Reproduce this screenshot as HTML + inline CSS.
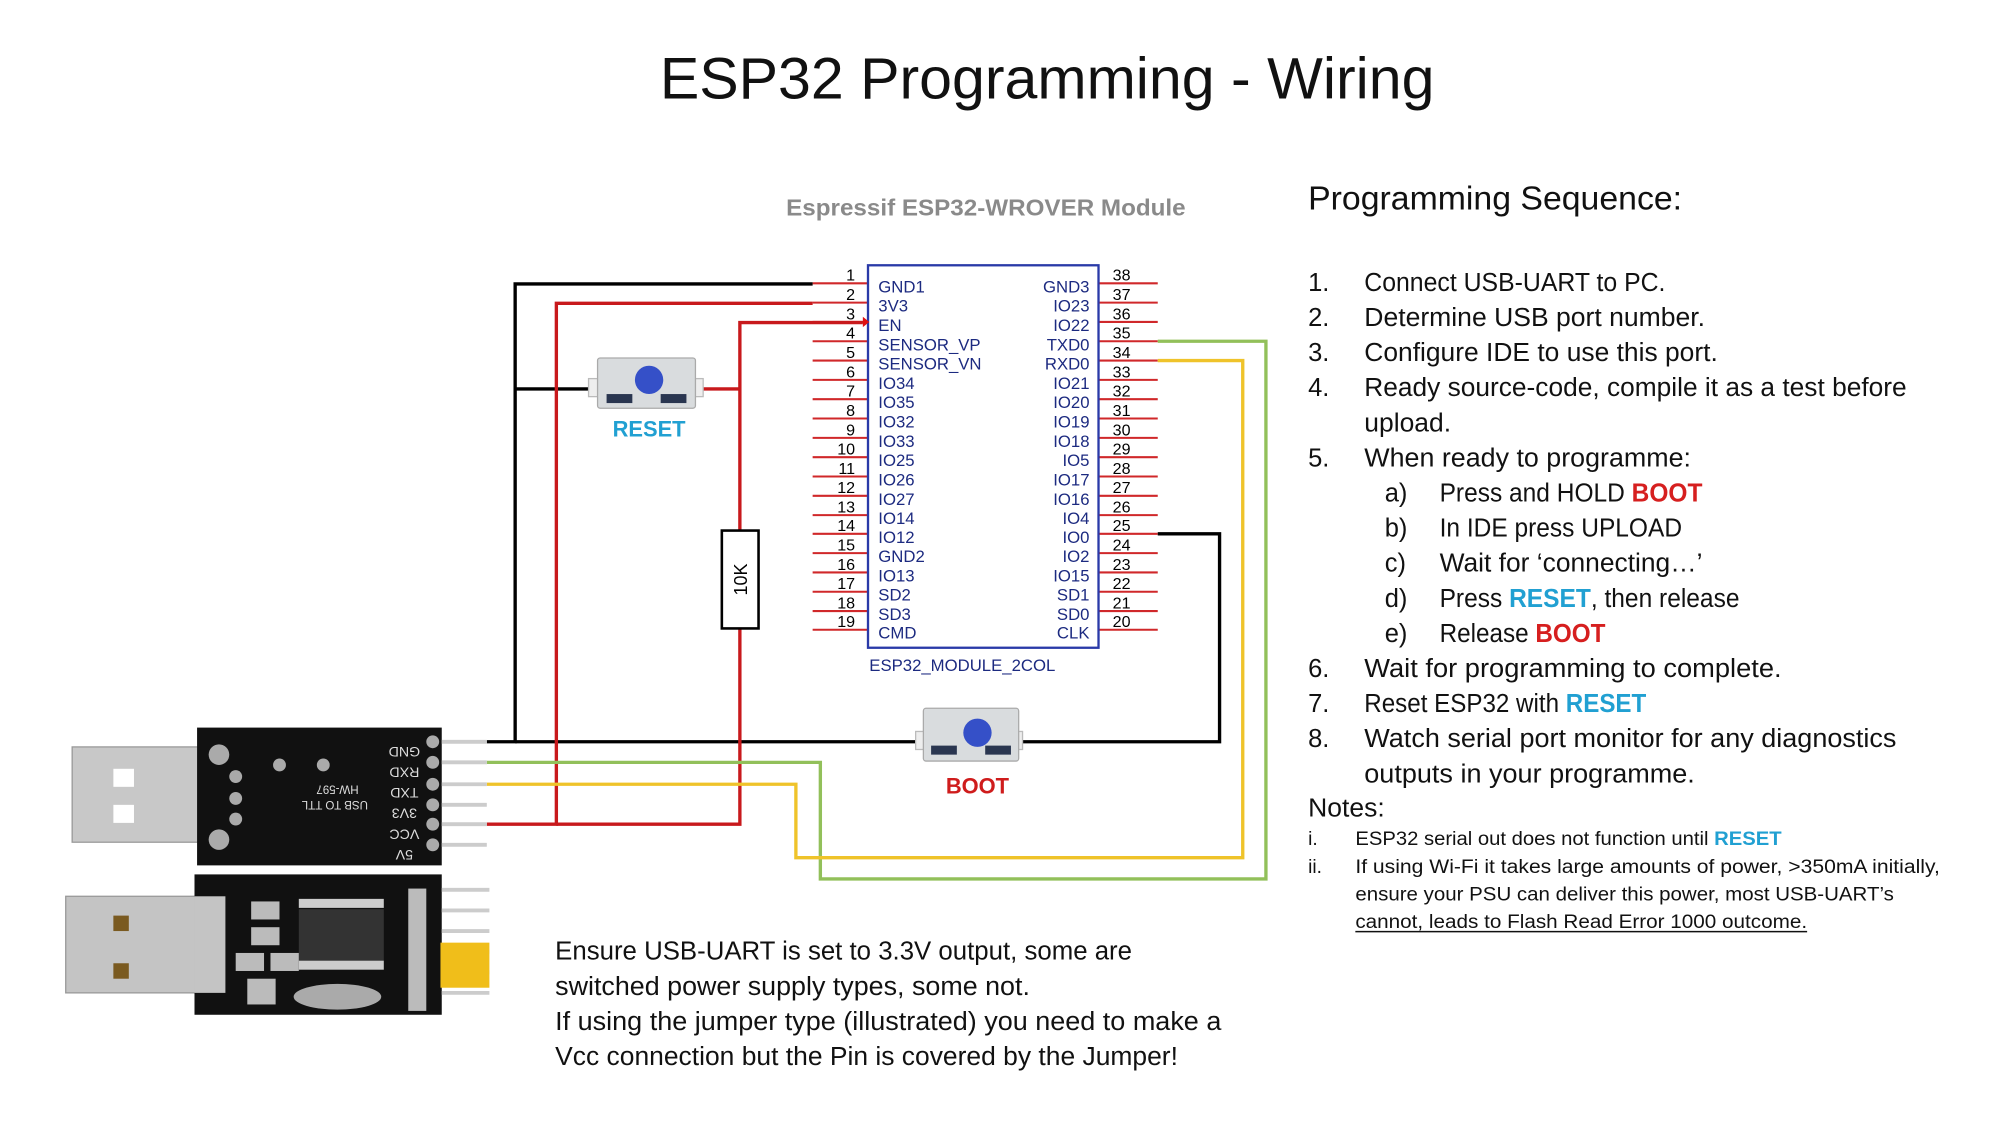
<!DOCTYPE html>
<html><head><meta charset="utf-8"><style>
html,body{margin:0;padding:0;background:#fff;}
svg{display:block;}
text{font-family:"Liberation Sans",sans-serif;}
.t{font-size:20px;fill:#111;}
.n{font-size:15px;fill:#111;}
.pl{font-size:13px;fill:#1c2a80;}
.pn{font-size:12.5px;fill:#000;}
</style></head><body>
<svg width="2000" height="1125" viewBox="0 0 1553 873.6" xmlns="http://www.w3.org/2000/svg">
<rect width="1553" height="874" fill="#fff"/>
<g transform="scale(0.991)">
<text x="517" y="77" font-size="46" fill="#111" textLength="607" lengthAdjust="spacingAndGlyphs">ESP32 Programming - Wiring</text>
<text x="616" y="169" font-size="18" font-weight="bold" fill="#8a8a8a" textLength="313" lengthAdjust="spacingAndGlyphs">Espressif ESP32-WROVER Module</text>
</g>

<!-- pin lines -->
<g stroke="#d0282a" stroke-width="1.6">
<line x1="631" x2="674" y1="220" y2="220"/><line x1="631" x2="674" y1="235" y2="235"/><line x1="631" x2="674" y1="250" y2="250"/><line x1="631" x2="674" y1="265" y2="265"/><line x1="631" x2="674" y1="280" y2="280"/><line x1="631" x2="674" y1="295" y2="295"/><line x1="631" x2="674" y1="310" y2="310"/><line x1="631" x2="674" y1="325" y2="325"/><line x1="631" x2="674" y1="340" y2="340"/><line x1="631" x2="674" y1="355" y2="355"/><line x1="631" x2="674" y1="370" y2="370"/><line x1="631" x2="674" y1="385" y2="385"/><line x1="631" x2="674" y1="400" y2="400"/><line x1="631" x2="674" y1="414.5" y2="414.5"/><line x1="631" x2="674" y1="429.5" y2="429.5"/><line x1="631" x2="674" y1="444.5" y2="444.5"/><line x1="631" x2="674" y1="459.5" y2="459.5"/><line x1="631" x2="674" y1="474.5" y2="474.5"/><line x1="631" x2="674" y1="489" y2="489"/>
<line x1="853" x2="899" y1="220" y2="220"/><line x1="853" x2="899" y1="235" y2="235"/><line x1="853" x2="899" y1="250" y2="250"/><line x1="853" x2="899" y1="265" y2="265"/><line x1="853" x2="899" y1="280" y2="280"/><line x1="853" x2="899" y1="295" y2="295"/><line x1="853" x2="899" y1="310" y2="310"/><line x1="853" x2="899" y1="325" y2="325"/><line x1="853" x2="899" y1="340" y2="340"/><line x1="853" x2="899" y1="355" y2="355"/><line x1="853" x2="899" y1="370" y2="370"/><line x1="853" x2="899" y1="385" y2="385"/><line x1="853" x2="899" y1="400" y2="400"/><line x1="853" x2="899" y1="414.5" y2="414.5"/><line x1="853" x2="899" y1="429.5" y2="429.5"/><line x1="853" x2="899" y1="444.5" y2="444.5"/><line x1="853" x2="899" y1="459.5" y2="459.5"/><line x1="853" x2="899" y1="474.5" y2="474.5"/><line x1="853" x2="899" y1="489" y2="489"/>
</g>
<rect x="674" y="206" width="179" height="297" fill="none" stroke="#2a3aa8" stroke-width="1.8"/>
<polygon points="670,246 675,250 670,254" fill="#e01010"/>
<g class="pn" text-anchor="end">
<text x="664" y="218">1</text><text x="664" y="233">2</text><text x="664" y="248">3</text><text x="664" y="263">4</text><text x="664" y="278">5</text><text x="664" y="293">6</text><text x="664" y="308">7</text><text x="664" y="323">8</text><text x="664" y="338">9</text><text x="664" y="353">10</text><text x="664" y="368">11</text><text x="664" y="383">12</text><text x="664" y="398">13</text><text x="664" y="412.5">14</text><text x="664" y="427.5">15</text><text x="664" y="442.5">16</text><text x="664" y="457.5">17</text><text x="664" y="472.5">18</text><text x="664" y="487">19</text>
</g>
<g class="pn">
<text x="864" y="218">38</text><text x="864" y="233">37</text><text x="864" y="248">36</text><text x="864" y="263">35</text><text x="864" y="278">34</text><text x="864" y="293">33</text><text x="864" y="308">32</text><text x="864" y="323">31</text><text x="864" y="338">30</text><text x="864" y="353">29</text><text x="864" y="368">28</text><text x="864" y="383">27</text><text x="864" y="398">26</text><text x="864" y="412.5">25</text><text x="864" y="427.5">24</text><text x="864" y="442.5">23</text><text x="864" y="457.5">22</text><text x="864" y="472.5">21</text><text x="864" y="487">20</text>
</g>
<g class="pl">
<text x="682" y="227">GND1</text><text x="682" y="242">3V3</text><text x="682" y="257">EN</text><text x="682" y="272">SENSOR_VP</text><text x="682" y="287">SENSOR_VN</text><text x="682" y="302">IO34</text><text x="682" y="317">IO35</text><text x="682" y="332">IO32</text><text x="682" y="347">IO33</text><text x="682" y="362">IO25</text><text x="682" y="377">IO26</text><text x="682" y="392">IO27</text><text x="682" y="407">IO14</text><text x="682" y="421.5">IO12</text><text x="682" y="436.5">GND2</text><text x="682" y="451.5">IO13</text><text x="682" y="466.5">SD2</text><text x="682" y="481.5">SD3</text><text x="682" y="496">CMD</text>
</g>
<g class="pl" text-anchor="end">
<text x="846" y="227">GND3</text><text x="846" y="242">IO23</text><text x="846" y="257">IO22</text><text x="846" y="272">TXD0</text><text x="846" y="287">RXD0</text><text x="846" y="302">IO21</text><text x="846" y="317">IO20</text><text x="846" y="332">IO19</text><text x="846" y="347">IO18</text><text x="846" y="362">IO5</text><text x="846" y="377">IO17</text><text x="846" y="392">IO16</text><text x="846" y="407">IO4</text><text x="846" y="421.5">IO0</text><text x="846" y="436.5">IO2</text><text x="846" y="451.5">IO15</text><text x="846" y="466.5">SD1</text><text x="846" y="481.5">SD0</text><text x="846" y="496">CLK</text>
</g>
<text x="675" y="521" class="pl">ESP32_MODULE_2COL</text>

<!-- wires -->
<g fill="none" stroke-width="2.6">
<polyline stroke="#000" points="631,220.5 400,220.5 400,576 378,576"/>
<line stroke="#000" x1="400" y1="302" x2="463" y2="302"/>
<line stroke="#000" x1="400" y1="576" x2="716" y2="576"/>
<polyline stroke="#000" points="790,576 947,576 947,414.5 899,414.5"/>
<polyline stroke="#c8191c" points="631,235.5 432,235.5 432,640 378,640"/>
<polyline stroke="#c8191c" points="670,250.5 574.5,250.5 574.5,412"/>
<line stroke="#c8191c" x1="541" y1="302" x2="574.5" y2="302"/>
<polyline stroke="#c8191c" points="574.5,488 574.5,640 432,640"/>
<polyline stroke="#92c05a" points="378,592 637,592 637,682.5 983,682.5 983,265 899,265"/>
<polyline stroke="#efc32a" points="378,609 618,609 618,666 965,666 965,280 899,280"/>
</g>
<rect x="560.5" y="412" width="28.5" height="76" fill="#fff" stroke="#000" stroke-width="2"/>
<text transform="translate(580,450) rotate(-90)" text-anchor="middle" font-size="14" fill="#000">10K</text>

<!-- RESET button -->
<g>
<rect x="457" y="294" width="8" height="14" fill="#eee" stroke="#bbb"/>
<rect x="538" y="294" width="8" height="14" fill="#eee" stroke="#bbb"/>
<rect x="464" y="278" width="76" height="39" rx="2" fill="#d9dcde" stroke="#aaa"/>
<rect x="471" y="306" width="20" height="7" fill="#2a3650"/>
<rect x="513" y="306" width="20" height="7" fill="#2a3650"/>
<circle cx="504" cy="295" r="11" fill="#3550c8"/>
</g>
<text x="504" y="339" text-anchor="middle" font-size="17" font-weight="bold" fill="#21a0d2">RESET</text>
<!-- BOOT button -->
<g>
<rect x="711" y="568" width="8" height="14" fill="#eee" stroke="#bbb"/>
<rect x="786" y="568" width="8" height="14" fill="#eee" stroke="#bbb"/>
<rect x="717" y="550" width="74" height="41" rx="2" fill="#d9dcde" stroke="#aaa"/>
<rect x="723" y="579" width="20" height="7" fill="#2a3650"/>
<rect x="765" y="579" width="20" height="7" fill="#2a3650"/>
<circle cx="759" cy="569" r="11" fill="#3550c8"/>
</g>
<text x="759" y="616" text-anchor="middle" font-size="17" font-weight="bold" fill="#cf1c1c">BOOT</text>

<!-- USB boards -->
<g>
<rect x="56" y="580" width="100" height="74" fill="#c8c8c8" stroke="#999"/>
<rect x="88" y="597" width="16" height="14" fill="#fff"/>
<rect x="88" y="625" width="16" height="14" fill="#fff"/>
<rect x="153" y="565" width="190" height="107" fill="#111"/>
<g stroke="#ccc" stroke-width="3"><line x1="343" y1="576" x2="378" y2="576"/><line x1="343" y1="592" x2="378" y2="592"/><line x1="343" y1="609" x2="378" y2="609"/><line x1="343" y1="625" x2="378" y2="625"/><line x1="343" y1="640" x2="378" y2="640"/><line x1="343" y1="656" x2="378" y2="656"/></g>
<g fill="#aaa"><circle cx="336" cy="576" r="5"/><circle cx="336" cy="592" r="5"/><circle cx="336" cy="609" r="5"/><circle cx="336" cy="625" r="5"/><circle cx="336" cy="640" r="5"/><circle cx="336" cy="656" r="5"/>
<circle cx="170" cy="586" r="8"/><circle cx="170" cy="652" r="8"/><circle cx="183" cy="603" r="5"/><circle cx="183" cy="620" r="5"/><circle cx="183" cy="636" r="5"/><circle cx="217" cy="594" r="5"/><circle cx="251" cy="594" r="5"/></g>
<g fill="#ddd" font-size="11" text-anchor="middle">
<text transform="translate(314,580) rotate(180)">GND</text><text transform="translate(314,596) rotate(180)">RXD</text><text transform="translate(314,612) rotate(180)">TXD</text><text transform="translate(314,628) rotate(180)">3V3</text><text transform="translate(314,644) rotate(180)">VCC</text><text transform="translate(314,660) rotate(180)">5V</text>
<text transform="translate(262,610) rotate(180)" font-size="9">HW-597</text><text transform="translate(260,622) rotate(180)" font-size="9">USB TO TTL</text></g>
</g>
<g>
<rect x="51" y="696" width="124" height="75" fill="#c4c4c4" stroke="#999"/>
<rect x="88" y="711" width="12" height="12" fill="#7a5a20"/>
<rect x="88" y="748" width="12" height="12" fill="#7a5a20"/>
<rect x="151" y="679" width="192" height="109" fill="#111"/>
<rect x="151" y="696" width="24" height="75" fill="#c4c4c4"/>
<g stroke="#ccc" stroke-width="3"><line x1="343" y1="691" x2="380" y2="691"/><line x1="343" y1="707" x2="380" y2="707"/><line x1="343" y1="723" x2="380" y2="723"/><line x1="343" y1="739" x2="380" y2="739"/><line x1="343" y1="755" x2="380" y2="755"/><line x1="343" y1="771" x2="380" y2="771"/></g>
<rect x="342" y="732" width="38" height="35" fill="#f0be1a"/>
<rect x="232" y="706" width="66" height="40" fill="#333"/>
<g fill="#ccc"><rect x="232" y="698" width="66" height="7"/><rect x="232" y="746" width="66" height="7"/></g>
<ellipse cx="262" cy="774" rx="34" ry="10" fill="#aaa"/>
<g fill="#bbb"><rect x="195" y="700" width="22" height="14"/><rect x="195" y="720" width="22" height="14"/><rect x="183" y="740" width="22" height="14"/><rect x="210" y="740" width="22" height="14"/><rect x="192" y="760" width="22" height="20"/>
<rect x="317" y="690" width="14" height="95"/></g>
</g>

<!-- right text -->
<g transform="scale(0.991)">
<text x="1025" y="164" font-size="26" fill="#111" textLength="293" lengthAdjust="spacingAndGlyphs">Programming Sequence:</text>
<g class="t">
<text x="1025" y="228">1.</text><text x="1069" y="228" textLength="236" lengthAdjust="spacingAndGlyphs">Connect USB-UART to PC.</text>
<text x="1025" y="255.5">2.</text><text x="1069" y="255.5" textLength="267" lengthAdjust="spacingAndGlyphs">Determine USB port number.</text>
<text x="1025" y="283">3.</text><text x="1069" y="283" textLength="277" lengthAdjust="spacingAndGlyphs">Configure IDE to use this port.</text>
<text x="1025" y="310.5">4.</text><text x="1069" y="310.5" textLength="425" lengthAdjust="spacingAndGlyphs">Ready source-code, compile it as a test before</text>
<text x="1069" y="338" textLength="68" lengthAdjust="spacingAndGlyphs">upload.</text>
<text x="1025" y="365.5">5.</text><text x="1069" y="365.5" textLength="256" lengthAdjust="spacingAndGlyphs">When ready to programme:</text>
<text x="1085" y="393">a)</text><text x="1128" y="393" textLength="206" lengthAdjust="spacingAndGlyphs">Press and HOLD <tspan fill="#d61f1f" font-weight="bold">BOOT</tspan></text>
<text x="1085" y="420.5">b)</text><text x="1128" y="420.5" textLength="190" lengthAdjust="spacingAndGlyphs">In IDE press UPLOAD</text>
<text x="1085" y="448">c)</text><text x="1128" y="448" textLength="206" lengthAdjust="spacingAndGlyphs">Wait for ‘connecting…’</text>
<text x="1085" y="475.5">d)</text><text x="1128" y="475.5" textLength="235" lengthAdjust="spacingAndGlyphs">Press <tspan fill="#21a0d2" font-weight="bold">RESET</tspan>, then release</text>
<text x="1085" y="503">e)</text><text x="1128" y="503" textLength="130" lengthAdjust="spacingAndGlyphs">Release <tspan fill="#d61f1f" font-weight="bold">BOOT</tspan></text>
<text x="1025" y="530.5">6.</text><text x="1069" y="530.5" textLength="327" lengthAdjust="spacingAndGlyphs">Wait for programming to complete.</text>
<text x="1025" y="558">7.</text><text x="1069" y="558" textLength="221" lengthAdjust="spacingAndGlyphs">Reset ESP32 with <tspan fill="#21a0d2" font-weight="bold">RESET</tspan></text>
<text x="1025" y="585.5">8.</text><text x="1069" y="585.5" textLength="417" lengthAdjust="spacingAndGlyphs">Watch serial port monitor for any diagnostics</text>
<text x="1069" y="613" textLength="259" lengthAdjust="spacingAndGlyphs">outputs in your programme.</text>
<text x="1025" y="640" textLength="60" lengthAdjust="spacingAndGlyphs">Notes:</text>
</g>
<g class="n">
<text x="1025" y="662">i.</text><text x="1062" y="662" textLength="334" lengthAdjust="spacingAndGlyphs">ESP32 serial out does not function until <tspan fill="#21a0d2" font-weight="bold">RESET</tspan></text>
<text x="1025" y="684">ii.</text><text x="1062" y="684" textLength="458" lengthAdjust="spacingAndGlyphs">If using Wi-Fi it takes large amounts of power, &gt;350mA initially,</text>
<text x="1062" y="705.5" textLength="422" lengthAdjust="spacingAndGlyphs">ensure your PSU can deliver this power, most USB-UART’s</text>
<text x="1062" y="727" textLength="354" lengthAdjust="spacingAndGlyphs">cannot, leads to Flash Read Error 1000 outcome.</text>
</g>
<line x1="1062" y1="730" x2="1416" y2="730" stroke="#111" stroke-width="1.2"/>

<g class="t">
<text x="435" y="752" textLength="452" lengthAdjust="spacingAndGlyphs">Ensure USB-UART is set to 3.3V output, some are</text>
<text x="435" y="779.5" textLength="372" lengthAdjust="spacingAndGlyphs">switched power supply types, some not.</text>
<text x="435" y="807" textLength="522" lengthAdjust="spacingAndGlyphs">If using the jumper type (illustrated) you need to make a</text>
<text x="435" y="834.5" textLength="488" lengthAdjust="spacingAndGlyphs">Vcc connection but the Pin is covered by the Jumper!</text>
</g>
</g>
</svg>
</body></html>
